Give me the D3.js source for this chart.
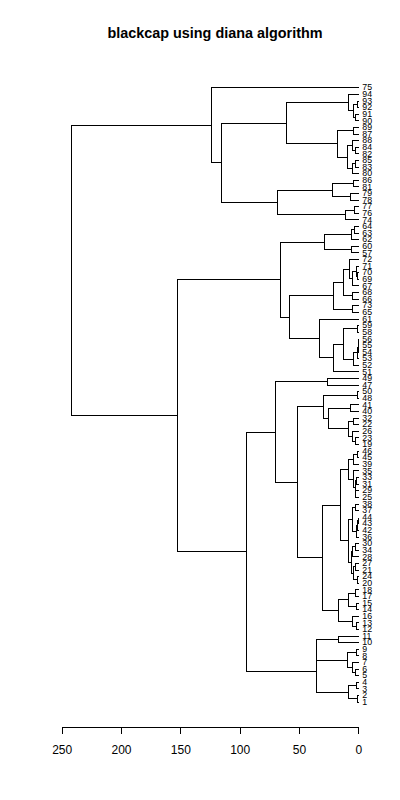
<!DOCTYPE html>
<html>
<head>
<meta charset="utf-8">
<script src="https://cdn.jsdelivr.net/npm/d3@7"></script>
<style>
  body { margin: 0; background: #fff; }
  svg { display: block; font-family: "Liberation Sans", Arial, sans-serif; }
</style>
</head>
<body>
<div id="chart"></div>
<script>
// nodes are [height, left, right], leaves are plain numbers
var clusterC = [61.2, [9.0, 94, [4.7, [1.0, 93, 92], [2.8, 91, 90]]],
                      [17.7, [4.7, 89, 87], [9.8, [5.6, 88, [2.8, 84, 82]], [5.6, [2.8, 85, 83], 80]]]];
var clusterD = [68.3, [21.9, [4.2, 86, 81], [7.0, 79, 78]], [11.0, [3.4, 77, 76], 74]];
var clusterF = [65.8, [28.7, [6.2, [3.6, 64, 63], 62], [6.2, 60, 57]],
                      [58.0, [21.1, [13.2, [7.6, 72, [5.6, [1.9, 71, [0.8, 70, 69]], 67]], [5.6, 68, 66]], [5.6, 73, 65]],
                             [32.9, 61, [21.1, [13.2, [1.0, 59, 58], [4.2, [1.2, [0.5, [0.3, 56, 55], 54], 53], 52]], 51]]]];
var clusterP = [29.5, [1.0, 50, 48], [25.3, [7.0, 41, 40], [8.4, [4.2, 32, 22], [5.6, 26, [2.8, 23, 19]]]]];
var clusterR = [9.0, [4.2, [1.3, 46, 45], 39], [4.2, 35, [3.0, [2.0, 33, 31], [2.4, 29, 25]]]];
var clusterT = [5.6, [2.8, 38, 37], [1.9, [1.0, [0.5, 44, 43], 42], 36]];
var clusterU = [6.0, [5.6, [2.8, 30, 34], 28], [4.7, [2.8, 27, 21], [1.0, 24, 20]]];
var clusterV = [17.5, [8.4, [2.8, 18, 17], [1.9, 15, 14]], [5.6, 16, [1.9, 13, 12]]];
var clusterZ = [35.8, [35.3, [16.9, 11, 10], [9.8, [1.9, 9, 8], [5.6, 7, [2.8, 6, 5]]]], [8.4, [1.9, 4, 3], [1.5, 2, 1]]];

var tickValues = [250, 200, 150, 100, 50, 0];
var title = "blackcap using diana algorithm";

// join the clusters up to the root
var treeData = [242.4,
    [123.9, 75, [116.0, clusterC, clusterD]],
    [152.6, clusterF,
        [94.4,
            [70.0, [26.1, 49, 47],
                [51.4, clusterP, [30.9, [15.4, clusterR, [8.4, clusterT, clusterU]], clusterV]]],
            clusterZ]]];

var width = 400, height = 800;

var svg = d3.select("#chart").append("svg")
    .attr("width", width)
    .attr("height", height);

var root = d3.hierarchy(treeData, function (d) {
    return Array.isArray(d) ? [d[1], d[2]] : null;
});

var leaves = root.leaves();

var x = d3.scaleLinear()
    .domain([250, 0])
    .range([61.7, 358.3]);

var y = d3.scalePoint()
    .domain(leaves.map(function (d) { return String(d.data); }))
    .range([87.3, 701.7]);

// positions: leaves from the scale, nodes at the mean of their children
root.eachAfter(function (d) {
    if (d.children) {
        d.h = d.data[0];
        d.py = (d.children[0].py + d.children[1].py) / 2;
    } else {
        d.h = 0;
        d.py = y(String(d.data));
    }
    d.px = x(d.h);
});

function px(v) { return Math.round(v) + 0.5; }

var g = svg.append("g");

root.descendants().forEach(function (d) {
    if (!d.children) return;
    var a = d.children[0], b = d.children[1];
    var path = "M" + px(a.px) + "," + px(a.py) +
        "H" + px(d.px) + "V" + px(b.py) + "H" + px(b.px);
    g.append("path")
        .attr("d", path)
        .attr("fill", "none")
        .attr("stroke", "#000")
        .attr("stroke-width", 1)
        .attr("shape-rendering", "crispEdges");
});

// leaf labels, tall and narrow like the original device font
svg.append("g").selectAll("text")
    .data(leaves)
    .enter().append("text")
    .attr("x", function (d) { return d.px + 4; })
    .attr("y", function (d) { return d.py; })
    .attr("dy", "0.36em")
    .style("font-family", "'Liberation Sans Narrow', 'Liberation Sans', Arial, sans-serif")
    .style("font-size", "8.8px")
    .style("fill", "#000")
    .text(function (d) { return d.data; });

// bottom axis
var xAxis = d3.axisBottom(x)
    .tickValues(tickValues)
    .tickSize(7)
    .tickSizeOuter(0);

var axisG = svg.append("g")
    .attr("transform", "translate(0," + 726.5 + ")")
    .call(xAxis);

axisG.select(".domain").attr("shape-rendering", "crispEdges");
axisG.selectAll(".tick line").attr("shape-rendering", "crispEdges");
axisG.selectAll(".tick text")
    .attr("y", 19)
    .style("font-size", "12px")
    .style("font-family", "'Liberation Sans', Arial, sans-serif")
    .style("fill", "#000");

// title
svg.append("text")
    .attr("x", 215)
    .attr("y", 38)
    .attr("text-anchor", "middle")
    .style("font-size", "14.4px")
    .style("font-weight", "bold")
    .style("fill", "#000")
    .text(title);
</script>
</body>
</html>
